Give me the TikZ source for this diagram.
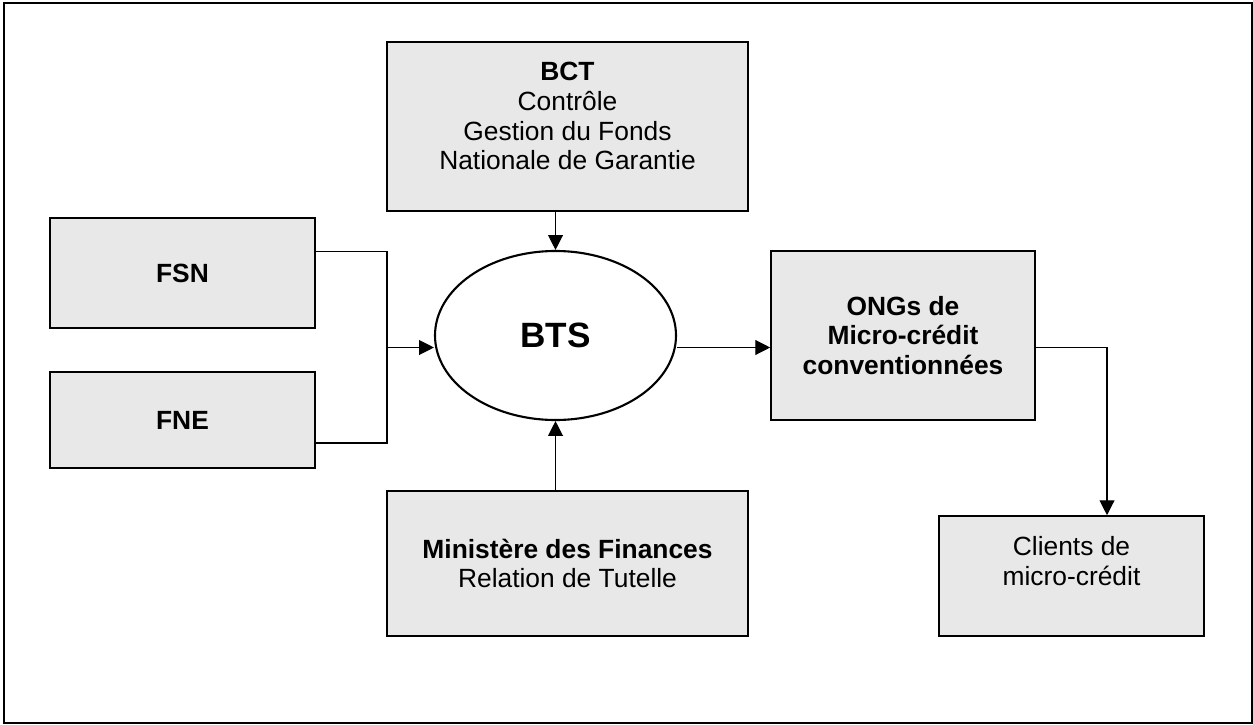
\documentclass[tikz,border=0pt]{standalone}
\usepackage{fontspec}
\setmainfont{Liberation Sans}
\usetikzlibrary{arrows.meta,shapes.geometric}
\definecolor{boxgray}{RGB}{232,232,232}

\begin{document}
\begin{tikzpicture}[
    box/.style={draw, line width=0.9pt, fill=boxgray, align=center, inner sep=2pt,
        font=\fontsize{15}{17}\selectfont},
    fleche/.style={-{Triangle[length=8.5pt,width=8.5pt]}, line width=0.7pt},
    lien/.style={line width=0.7pt}
  ]
            \useasboundingbox (0,0) rectangle (25.06,14.48);
            \draw[line width=1.1pt] (0.08,0.02) rectangle (25.04,14.42);

            \node[box, minimum width=7.22cm, minimum height=3.38cm] (bct) at (11.35,11.95)
                {\textbf{BCT}\\Contrôle\\Gestion du Fonds\\Nationale de Garantie\\[-5pt]~};
            \node[box, minimum width=5.3cm, minimum height=2.2cm] (fsn) at (3.65,9.02)
                {\textbf{FSN}};
            \node[box, minimum width=5.3cm, minimum height=1.92cm] (fne) at (3.65,6.08)
                {\textbf{FNE}};
            \node[draw, ellipse, line width=1.2pt, minimum width=4.82cm, minimum height=3.38cm,
                font=\bfseries\fontsize{20}{24}\selectfont] (bts) at (11.11,7.77) {BTS};
            \node[box, minimum width=5.28cm, minimum height=3.38cm] (ongs) at (18.06,7.77)
                {\textbf{ONGs de}\\\textbf{Micro-crédit}\\\textbf{conventionnées}};
            \node[box, minimum width=7.22cm, minimum height=2.9cm] (mf) at (11.35,3.21)
                {\textbf{Ministère des Finances}\\Relation de Tutelle};
            \node[box, minimum width=5.3cm, minimum height=2.4cm] (clients) at (21.43,2.96)
                {Clients de\\micro-crédit\\~};

            \coordinate (jn) at (7.74,7.53);
            \draw[lien] ([yshift=0.43cm]fsn.east) -| (jn) |- ([yshift=-0.46cm]fne.east);
            \draw[fleche] (jn) -- (jn -| bts.west);
            \draw[fleche] (bts.north |- bct.south) -- (bts.north);
            \draw[fleche] (bts.south |- mf.north) -- (bts.south);
            \draw[fleche] (bts.east |- jn) -- (ongs.west |- jn);
            \draw[fleche] (ongs.east |- jn) -| ([xshift=0.71cm]clients.north);
        \end{tikzpicture}
\end{document}
